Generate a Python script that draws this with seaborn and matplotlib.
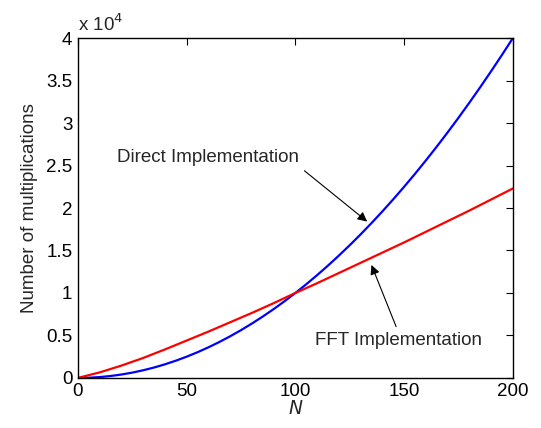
# Direct vs FFT implementation: number of multiplications against N
import numpy as np
import pandas as pd
import matplotlib
matplotlib.use("Agg")
import matplotlib.pyplot as plt
import seaborn as sns
from matplotlib.ticker import FuncFormatter, MultipleLocator

# values
n_direct = list(range(0, 201, 5))
direct_mults = [0, 25, 100, 225, 400, 625, 900, 1225, 1600, 2025, 2500,
                3025, 3600, 4225, 4900, 5625, 6400, 7225, 8100, 9025, 10000,
                11025, 12100, 13225, 14400, 15625, 16900, 18225, 19600, 21025, 22500,
                24025, 25600, 27225, 28900, 30625, 32400, 34225, 36100, 38025, 40000]

n_fft = list(range(0, 201, 10))
fft_mults = [0, 650, 1450, 2350, 3350, 4400, 5450, 6550, 7650, 8800, 10000,
             11150, 12350, 13550, 14750, 15950, 17200, 18450, 19700, 21000, 22300]

x_ticks = [0, 50, 100, 150, 200]

df_direct = pd.DataFrame({"N": n_direct, "mults": direct_mults})
df_fft = pd.DataFrame({"N": n_fft, "mults": fft_mults})

sns.set_theme(style="white")
plt.rcParams["font.family"] = ["Liberation Sans", "DejaVu Sans"]

fig = plt.figure(figsize=(5.41, 4.28), dpi=100)
ax = fig.add_axes([0.144, 0.117, 0.804, 0.794])

sns.lineplot(data=df_direct, x="N", y="mults", color="#0000ff", lw=1.6, ax=ax)
sns.lineplot(data=df_fft, x="N", y="mults", color="#ff0000", lw=1.6, ax=ax)

ax.set_xlim(0, 200)
ax.set_ylim(0, 40000)
ax.set_xticks(x_ticks)
ax.yaxis.set_major_locator(MultipleLocator(5000))
ax.yaxis.set_major_formatter(FuncFormatter(lambda v, p: f"{v / 1e4:g}"))

ax.tick_params(direction="in", length=5, width=0.8, top=True, right=True,
               labelsize=13.5, colors="black", pad=4)
for sp in ax.spines.values():
    sp.set_color("black")
    sp.set_linewidth(1.0)

ax.set_xlabel("$N$", fontsize=13.5, labelpad=0)
ax.set_ylabel("Number of multiplications", fontsize=13.5, labelpad=6)
ax.text(0.0, 1.01, r"x 10$^4$", transform=ax.transAxes, fontsize=13.5,
        ha="left", va="bottom")

arrow = dict(arrowstyle="-|>", color="black", lw=0.8, mutation_scale=14)
ax.annotate("Direct Implementation", xy=(134, 18200), xytext=(18, 25900),
            fontsize=13.5, va="center", ha="left",
            arrowprops=dict(arrow, relpos=(1.0, 0.0)))
ax.annotate("FFT Implementation", xy=(134.5, 13600), xytext=(109, 4350),
            fontsize=13.5, va="center", ha="left",
            arrowprops=dict(arrow, relpos=(0.5, 1.0)))

fig.savefig("out.png", dpi=100)
